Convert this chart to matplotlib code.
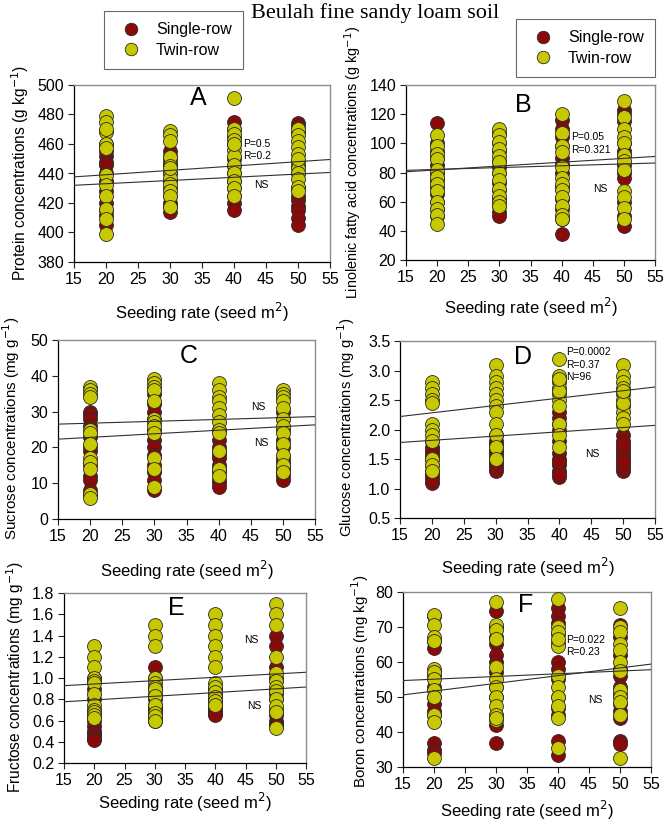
import matplotlib
matplotlib.use("Agg")
import matplotlib.pyplot as plt
from matplotlib.lines import Line2D

plt.rcParams['font.family'] = ['Liberation Sans', 'DejaVu Sans']

# ---------------- data ----------------
rates = [20, 30, 40, 50]
line_x = [15, 55]

# Panel A: Protein
A_single = [[452, 448, 446, 455, 420, 415, 412, 405, 428, 435, 440, 460],
            [455, 450, 445, 440, 435, 430, 425, 420, 414, 418, 447, 452],
            [475, 470, 465, 460, 440, 435, 430, 425, 420, 415, 445, 450],
            [474, 472, 468, 430, 425, 422, 418, 415, 410, 405, 440, 445]]
A_twin = [[479, 475, 468, 460, 457, 439, 432, 425, 416, 409, 399, 470],
          [469, 466, 462, 451, 445, 440, 437, 433, 428, 425, 417, 444],
          [491, 470, 467, 463, 456, 452, 446, 440, 435, 430, 425, 460],
          [470, 466, 462, 458, 453, 448, 444, 440, 436, 431, 428, 450]]
A_line1 = [437.7, 449.5]
A_line2 = [432.0, 440.7]

# Panel B: Linolenic fatty acid
B_single = [[114, 100, 95, 90, 85, 80, 75, 70, 65, 60, 55, 50],
            [107, 100, 95, 88, 84, 80, 73, 68, 62, 57, 53, 50],
            [116, 110, 104, 98, 90, 86, 80, 70, 62, 55, 48, 38],
            [123, 120, 115, 100, 95, 92, 85, 80, 76, 60, 50, 43]]
B_twin = [[106, 98, 93, 89, 82, 77, 72, 67, 60, 55, 51, 45],
          [110, 106, 101, 96, 91, 87, 80, 75, 69, 64, 60, 57],
          [120, 107, 98, 94, 84, 76, 72, 68, 63, 57, 51, 48],
          [129, 118, 110, 104, 100, 92, 88, 82, 67, 63, 56, 48]]
B_line1 = [80.5, 91.0]
B_line2 = [81.5, 86.5]

# Panel C: Sucrose
C_single = [[30, 29, 28, 26, 23, 20, 19, 15, 12, 11, 8, 7],
            [35, 32, 30, 28, 25, 22, 20, 18, 15, 13, 11, 8],
            [25, 22, 20, 19, 18, 17, 15, 14, 13, 11, 10, 9],
            [30, 28, 25, 22, 20, 17, 16, 15, 14, 13, 12, 11]]
C_twin = [[37, 36, 35, 34, 25, 24, 21, 17, 16, 14, 7, 6],
          [39, 38, 37, 36, 33, 28, 27, 26, 24, 17, 14, 9],
          [38, 36, 34, 33, 31, 29, 27, 25, 24, 19, 14, 12],
          [36, 35, 34, 33, 31, 28, 26, 24, 21, 18, 15, 13]]
C_line1 = [26.5, 28.6]
C_line2 = [22.3, 26.3]

# Panel D: Glucose
D_single = [[1.8, 1.7, 1.6, 1.5, 1.4, 1.3, 1.2, 1.1, 1.65, 1.55, 1.25, 1.15],
            [1.9, 1.8, 1.7, 1.6, 1.5, 1.4, 1.3, 1.35, 1.45, 1.55, 1.65, 1.75],
            [2.3, 2.2, 2.1, 2.0, 1.8, 1.6, 1.5, 1.4, 1.3, 1.2, 1.25, 1.45],
            [1.9, 1.8, 1.7, 1.6, 1.5, 1.4, 1.3, 1.55, 1.65, 1.35, 1.45, 1.75]]
D_twin = [[2.8, 2.7, 2.6, 2.5, 2.1, 2.0, 1.9, 1.8, 1.5, 1.4, 1.3, 2.45],
          [3.1, 2.9, 2.8, 2.7, 2.6, 2.5, 2.4, 2.3, 2.1, 1.9, 1.7, 1.5],
          [3.2, 2.9, 2.8, 2.7, 2.6, 2.5, 2.4, 2.1, 1.9, 1.7, 2.65, 2.85],
          [3.1, 2.9, 2.8, 2.7, 2.6, 2.5, 2.4, 2.3, 2.2, 2.1, 2.45, 2.65]]
D_line1 = [2.22, 2.72]
D_line2 = [1.78, 2.07]

# Panel E: Fructose
E_single = [[1.0, 0.9, 0.8, 0.7, 0.65, 0.6, 0.55, 0.5, 0.48, 0.45, 0.43, 0.42],
            [1.1, 1.0, 0.9, 0.85, 0.8, 0.75, 0.72, 0.7, 0.68, 0.65, 0.62, 0.6],
            [0.9, 0.85, 0.8, 0.75, 0.72, 0.7, 0.68, 0.66, 0.65, 0.78, 0.82, 0.88],
            [1.4, 1.3, 1.1, 1.0, 0.9, 0.85, 0.8, 0.7, 0.65, 0.6, 0.57, 0.55]]
E_twin = [[1.3, 1.2, 1.1, 1.0, 0.97, 0.95, 0.85, 0.75, 0.7, 0.68, 0.65, 0.62],
          [1.5, 1.4, 1.3, 1.0, 0.95, 0.92, 0.9, 0.83, 0.75, 0.67, 0.64, 0.6],
          [1.6, 1.5, 1.4, 1.3, 1.2, 1.1, 0.95, 0.92, 0.87, 0.82, 0.78, 0.75],
          [1.7, 1.6, 1.5, 1.2, 1.05, 0.97, 0.92, 0.88, 0.8, 0.74, 0.68, 0.53]]
E_line1 = [0.928, 1.054]
E_line2 = [0.776, 0.915]

# Panel F: Boron
F_single = [[73, 66, 64, 56, 53, 50, 48, 46, 45, 37, 35, 34],
            [74.5, 70, 67, 65, 62, 60, 57, 53, 50, 45, 42, 37],
            [75.5, 73, 71, 68, 60, 58, 55, 50, 47, 45, 37.5, 33.5],
            [70.5, 67, 62, 58, 56, 53, 51, 48, 46, 44, 37.5, 36.5]]
F_twin = [[73.5, 70.5, 67, 66, 58, 57, 55, 52, 50, 45, 43, 32.5],
          [77, 70.5, 69, 66.5, 58.5, 55, 53, 50, 47.5, 45, 43.5, 44],
          [78, 70, 68.5, 65.5, 64.5, 56, 53, 50, 47.5, 44, 35.5, 66.5],
          [75.5, 70, 68.5, 65, 63.5, 60, 57.5, 52, 50, 48.5, 45, 32.5]]
F_line1 = [54.7, 57.8]
F_line2 = [50.6, 59.4]

xticks = [15, 20, 25, 30, 35, 40, 45, 50, 55]
series_labels = ["Single-row", "Twin-row"]
title = "Beulah fine sandy loam soil"
xlabel = "Seeding rate (seed m$^{2}$)"

# ---------------- style ----------------
RED = "#8a0a0a"
YEL = "#c8c800"
EDGE = "#2a2a2a"

W, H = 664, 822
fig = plt.figure(figsize=(W / 100, H / 100), dpi=100)


def px_axes(l, t, r, b):
    return fig.add_axes([l / W, 1 - b / H, (r - l) / W, (b - t) / H])


panels = [
    dict(box=(74, 85, 330, 262), single=A_single, twin=A_twin, lines=(A_line1, A_line2),
         ylim=(380, 500), yticks=[380, 400, 420, 440, 460, 480, 500], yfmt="{:.0f}",
         ylabel="Protein concentrations (g kg$^{-1}$)", yfs=11.2, letter="A", letter_xy=(34.4, 491),
         notes=[("P=0.5\nR=0.2", 41.5, 456), ("NS", 43.2, 432)],
         ylab=(20, 173), xlab_px=312),
    dict(box=(406, 85, 655, 260), single=B_single, twin=B_twin, lines=(B_line1, B_line2),
         ylim=(20, 140), yticks=[20, 40, 60, 80, 100, 120, 140], yfmt="{:.0f}",
         ylabel="Linolenic fatty acid concentrations (g kg$^{-1}$)", yfs=10.4, letter="B",
         letter_xy=(33.9, 126),
         notes=[("P=0.05\nR=0.321", 41.5, 100), ("NS", 45.0, 69)],
         ylab=(353, 162), xlab_px=307),
    dict(box=(58, 340, 315, 519), single=C_single, twin=C_twin, lines=(C_line1, C_line2),
         ylim=(0, 50), yticks=[0, 10, 20, 30, 40, 50], yfmt="{:.0f}",
         ylabel="Sucrose concentrations (mg g$^{-1}$)", yfs=10.9, letter="C", letter_xy=(35.4, 45.5),
         notes=[("NS", 45.1, 31.4), ("NS", 45.6, 21.2)],
         ylab=(11, 428), xlab_px=570),
    dict(box=(400, 341, 655, 518), single=D_single, twin=D_twin, lines=(D_line1, D_line2),
         ylim=(0.5, 3.5), yticks=[0.5, 1.0, 1.5, 2.0, 2.5, 3.0, 3.5], yfmt="{:.1f}",
         ylabel="Glucose concentrations (mg g$^{-1}$)", yfs=10.7, letter="D", letter_xy=(34.3, 3.23),
         notes=[("P=0.0002\nR=0.37\nN=96", 41.0, 3.1), ("NS", 44.1, 1.58)],
         ylab=(346, 427), xlab_px=567),
    dict(box=(64, 593, 306, 763), single=E_single, twin=E_twin, lines=(E_line1, E_line2),
         ylim=(0.2, 1.8), yticks=[0.2, 0.4, 0.6, 0.8, 1.0, 1.2, 1.4, 1.6, 1.8], yfmt="{:.1f}",
         ylabel="Fructose concentrations (mg g$^{-1}$)", yfs=11.2, letter="E", letter_xy=(33.6, 1.66),
         notes=[("NS", 44.8, 1.36), ("NS", 45.2, 0.74)],
         ylab=(15, 677), xlab_px=802),
    dict(box=(403, 592, 651, 767), single=F_single, twin=F_twin, lines=(F_line1, F_line2),
         ylim=(30, 80), yticks=[30, 40, 50, 60, 70, 80], yfmt="{:.0f}",
         ylabel="Boron concentrations (mg kg$^{-1}$)", yfs=10.8, letter="F", letter_xy=(34.7, 76.4),
         notes=[("P=0.022\nR=0.23", 41.3, 64.5), ("NS", 44.8, 49.2)],
         ylab=(360, 681), xlab_px=810),
]

for p in panels:
    l, t, r, b = p["box"]
    ax = px_axes(l, t, r, b)
    for i, xr in enumerate(rates):
        ax.scatter([xr] * len(p["single"][i]), p["single"][i], s=100, c=RED,
                   edgecolors=EDGE, linewidths=0.6, zorder=3)
    for i, xr in enumerate(rates):
        ax.scatter([xr] * len(p["twin"][i]), p["twin"][i], s=100, c=YEL,
                   edgecolors=EDGE, linewidths=0.6, zorder=4)
    for ln in p["lines"]:
        ax.plot(line_x, ln, color="#303030", lw=0.8, zorder=5)
    ax.set_xlim(15, 55)
    ax.set_ylim(*p["ylim"])
    ax.set_xticks(xticks)
    ax.set_yticks(p["yticks"])
    ax.set_yticklabels([p["yfmt"].format(v) for v in p["yticks"]])
    ax.tick_params(direction="out", length=4, width=0.8, labelsize=11.5, pad=3,
                   top=False, right=False, color="#222222")
    for s in ("left", "bottom"):
        ax.spines[s].set_color("black")
        ax.spines[s].set_linewidth(0.9)
    for s in ("top", "right"):
        ax.spines[s].set_color("#8c8c8c")
        ax.spines[s].set_linewidth(1.0)
    ax.set_xlabel(xlabel, fontsize=12, va="center")
    ax.xaxis.set_label_coords(0.5, (b - p["xlab_px"]) / (b - t))
    ax.set_ylabel(p["ylabel"], fontsize=p["yfs"], va="center")
    ylx, yly = p["ylab"]
    ax.yaxis.set_label_coords((ylx - l) / (r - l), (b - yly) / (b - t))
    ax.text(*p["letter_xy"], p["letter"], fontsize=18, ha="center", va="center", zorder=6)
    for txt, tx, ty in p["notes"]:
        ax.text(tx, ty, txt, fontsize=7.5, ha="left", va="center", linespacing=1.3, zorder=6)

fig.text(375 / W, 1 - 13 / H, title, family=["Liberation Serif"], fontsize=16,
         ha="center", va="center")

handles = [Line2D([], [], ls="none", marker="o", ms=9, mfc=RED, mec=EDGE, mew=0.6),
           Line2D([], [], ls="none", marker="o", ms=9, mfc=YEL, mec=EDGE, mew=0.6)]
for (lx, ty) in [(104, 11), (516, 19)]:
    leg = fig.legend(handles, series_labels, loc="upper left",
                     bbox_to_anchor=(lx / W, 1 - ty / H), bbox_transform=fig.transFigure,
                     fontsize=11.5, frameon=True, fancybox=False, borderpad=0.7,
                     handlelength=2.0, handletextpad=0.55, labelspacing=0.35,
                     borderaxespad=0)
    fr = leg.get_frame()
    fr.set_edgecolor("#444444")
    fr.set_linewidth(0.8)

fig.savefig("out.png", dpi=100)
